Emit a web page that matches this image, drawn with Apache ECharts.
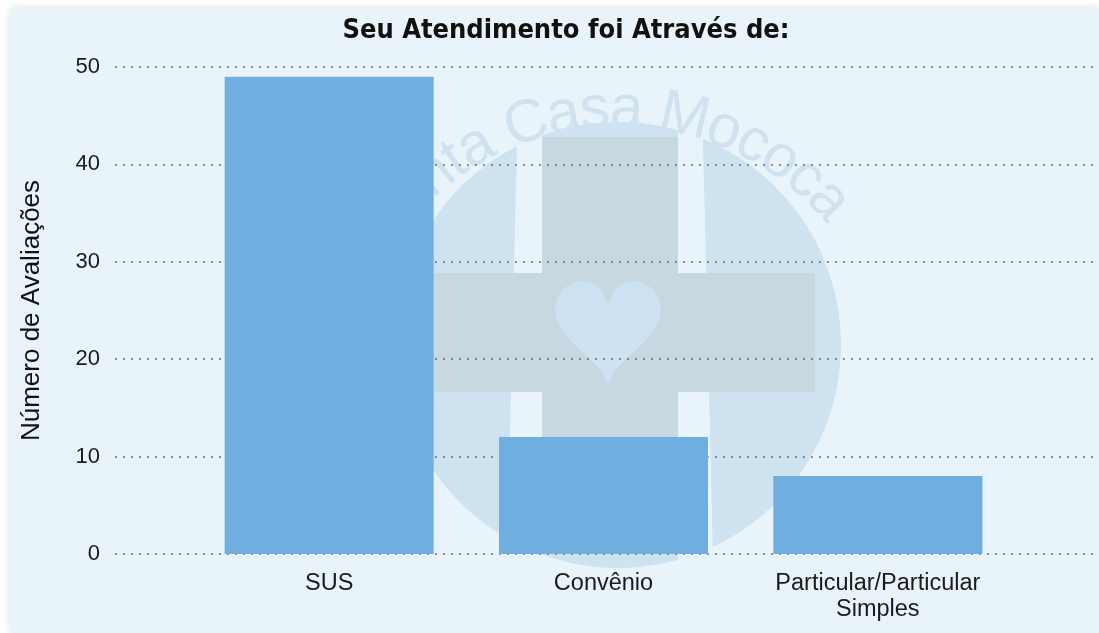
<!DOCTYPE html>
<html>
<head>
<meta charset="utf-8">
<script src="https://cdn.jsdelivr.net/npm/echarts@6/dist/echarts.min.js"></script>
<style>
html,body{margin:0;padding:0;background:#ffffff;}
#chart{width:1099px;height:633px;}
</style>
</head>
<body>
<div id="chart"></div>
<script>
const titleText = 'Seu Atendimento foi Através de:';
const categories = ['SUS', 'Convênio', 'Particular/Particular\nSimples'];
const values = [49, 12, 8];
const yAxisName = 'Número de Avaliações';
const yMin = 0, yMax = 50, yStep = 10;
const watermarkText = 'Santa Casa Mococa';

const chart = echarts.init(document.getElementById('chart'), null, {renderer: 'canvas'});

// decorative watermark (logo) elements
const wm = [];
wm.push({type: 'rect', z: -20, shape: {x: 10, y: 8, width: 1089, height: 625}, style: {fill: '#e8f4f9', shadowBlur: 8, shadowColor: 'rgba(0,0,0,0.12)'}});
wm.push({type: 'circle', z: -10, shape: {cx: 618, cy: 345, r: 223}, style: {fill: '#cfe2f0'}});
wm.push({type: 'polygon', z: -9, shape: {points: [[518, 100], [542, 100], [542, 600], [506, 600]]}, style: {fill: '#e8f4f9'}});
wm.push({type: 'polygon', z: -9, shape: {points: [[678, 100], [702, 100], [714, 600], [678, 600]]}, style: {fill: '#e8f4f9'}});
wm.push({type: 'rect', z: -8, shape: {x: 542, y: 137, width: 136, height: 410}, style: {fill: '#c8d8e0'}});
wm.push({type: 'rect', z: -8, shape: {x: 405, y: 273, width: 410, height: 119}, style: {fill: '#c8d8e0'}});
(function(){
  // heart shape outline (decoration)
  const pts = [];
  for (let i = 0; i < 72; i++) {
    const t = i / 72 * Math.PI * 2;
    const hx = 16 * Math.pow(Math.sin(t), 3);
    const hy = 13 * Math.cos(t) - 5 * Math.cos(2 * t) - 2 * Math.cos(3 * t) - Math.cos(4 * t);
    pts.push([608 + hx * 3.3, 324 - hy * 3.6]);
  }
  wm.push({type: 'polygon', z: -7, shape: {points: pts}, style: {fill: '#cde2f3'}});
})();
(function(){
  const cx = 618, cy = 400, R = 290, fs = 60;
  const ctx = document.createElement('canvas').getContext('2d');
  ctx.font = fs + 'px "Liberation Sans", Arial, sans-serif';
  const chars = watermarkText.split('');
  const cIdx = watermarkText.indexOf('C');
  const pos = [];
  let acc = 0;
  for (let i = 0; i < chars.length; i++) {
    const w = ctx.measureText(chars[i]).width;
    pos.push(acc + w / 2);
    acc += w;
  }
  const base = -18.4 * Math.PI / 180;
  for (let i = 0; i < chars.length; i++) {
    if (chars[i] === ' ') continue;
    const th = base + (pos[i] - pos[cIdx]) / R;
    wm.push({type: 'text', z: -6,
      x: cx + R * Math.sin(th), y: cy - R * Math.cos(th), rotation: -th,
      style: {text: chars[i], fill: '#d0e2ef', font: fs + 'px "Liberation Sans", Arial, sans-serif', align: 'center', verticalAlign: 'middle'}});
  }
})();

const option = {
  backgroundColor: 'transparent',
  animation: false,
  title: {
    text: titleText,
    left: 561, top: 12, textAlign: 'center',
    textStyle: {fontFamily: '"Liberation Sans Narrow", "DejaVu Sans Condensed", "Liberation Sans", sans-serif', fontWeight: 'bold', fontSize: 27, color: '#111'}
  },
  graphic: {elements: wm},
  grid: [
    {left: 115, right: 0, top: 67, bottom: 79},
    {left: 192, right: 84, top: 67, bottom: 79}
  ],
  xAxis: [
    {type: 'value', gridIndex: 0, show: false, min: 0, max: 1},
    {type: 'category', gridIndex: 1, data: categories,
     axisLine: {show: false}, axisTick: {show: false},
     axisLabel: {margin: 17, fontSize: 23.5, color: '#1a1a1a', lineHeight: 26, fontFamily: '"Liberation Sans", Arial, sans-serif'}}
  ],
  yAxis: [
    {type: 'value', gridIndex: 0, min: yMin, max: yMax, interval: yStep,
     axisLine: {show: false}, axisTick: {show: false},
     axisLabel: {margin: 15, fontSize: 22, color: '#1a1a1a', fontFamily: '"Liberation Sans", Arial, sans-serif'},
     splitLine: {show: true, lineStyle: {color: '#555', width: 1.7, type: [1.7, 6.3]}},
     name: yAxisName, nameLocation: 'middle', nameGap: 70, nameRotate: 90,
     nameTextStyle: {fontSize: 26, color: '#111', fontFamily: '"Liberation Sans", Arial, sans-serif'}},
    {type: 'value', gridIndex: 1, min: yMin, max: yMax, interval: yStep, show: false}
  ],
  series: [{
    type: 'bar', xAxisIndex: 1, yAxisIndex: 1,
    data: values, barWidth: 209,
    itemStyle: {color: '#71aee0'}
  }]
};
chart.setOption(option);
</script>
</body>
</html>
